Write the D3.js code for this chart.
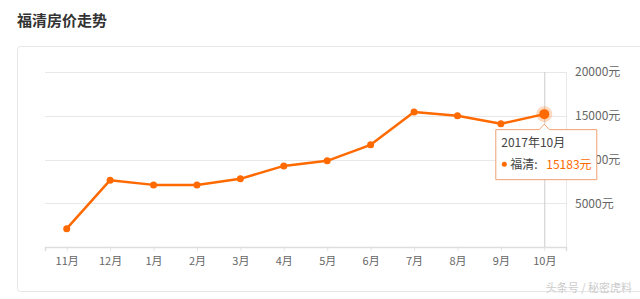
<!DOCTYPE html>
<html>
<head>
<meta charset="utf-8">
<script src="https://cdn.jsdelivr.net/npm/d3@7"></script>
<style>
  body { margin: 0; background: #fff; }
  text { font-family: "Noto Sans CJK SC", "Noto Sans", sans-serif; }
</style>
</head>
<body>
<div id="chart"></div>
<script>
var svgWidth = 640;
var svgHeight = 299;

// data
var months = ["11月", "12月", "1月", "2月", "3月", "4月", "5月", "6月", "7月", "8月", "9月", "10月"];
var prices = [2100, 7640, 7100, 7090, 7790, 9270, 9850, 11680, 15420, 15000, 14080, 15183];
var yTicks = [5000, 10000, 15000, 20000];
var hoverIndex = 11;
var hoverLabel = "2017年10月";
var seriesName = "福清";

var margin = { top: 72, right: 74, bottom: 52, left: 45 };
var width = svgWidth - margin.left - margin.right;
var height = svgHeight - margin.top - margin.bottom;

var orange = "#ff6a00";

var svg = d3.select("#chart")
  .append("svg")
  .attr("width", svgWidth)
  .attr("height", svgHeight);

// title
svg.append("text")
  .attr("x", 17)
  .attr("y", 26)
  .attr("font-size", 15)
  .attr("font-weight", "bold")
  .attr("fill", "#333")
  .text("福清房价走势");

// card
svg.append("rect")
  .attr("x", 17.5)
  .attr("y", 46.5)
  .attr("width", 640)
  .attr("height", 245)
  .attr("rx", 3)
  .attr("fill", "none")
  .attr("stroke", "#e6e6e6");

var chartGroup = svg.append("g")
  .attr("transform", `translate(${margin.left}, ${margin.top})`);

var xScale = d3.scalePoint()
  .domain(months)
  .range([0, width])
  .padding(0.5);

var yScale = d3.scaleLinear()
  .domain([0, 20000])
  .range([height, 0]);

// grid lines
chartGroup.selectAll(".grid")
  .data(yTicks)
  .enter()
  .append("line")
  .attr("x1", 0)
  .attr("x2", width)
  .attr("y1", d => Math.round(yScale(d)) + 0.5)
  .attr("y2", d => Math.round(yScale(d)) + 0.5)
  .attr("stroke", "#e8e8e8");

// right edge of plot
chartGroup.append("line")
  .attr("x1", width + 0.5)
  .attr("x2", width + 0.5)
  .attr("y1", 0)
  .attr("y2", height)
  .attr("stroke", "#e8e8e8");

// right axis labels
var rightAxis = d3.axisRight(yScale)
  .tickValues(yTicks)
  .tickSize(0)
  .tickPadding(9)
  .tickFormat(d => d + "元");

chartGroup.append("g")
  .attr("transform", `translate(${width}, 0)`)
  .call(rightAxis)
  .call(g => g.select(".domain").remove())
  .selectAll("text")
  .attr("fill", "#666")
  .attr("font-size", 12);

// bottom axis
var bottomAxis = d3.axisBottom(xScale)
  .tickSize(4)
  .tickPadding(6);

var xAxis = chartGroup.append("g")
  .attr("transform", `translate(0, ${height})`)
  .call(bottomAxis);
xAxis.select(".domain").attr("stroke", "#ddd").attr("stroke-width", 1.5);
xAxis.selectAll(".tick line").attr("stroke", "#e3e3e3");
xAxis.selectAll("text")
  .attr("fill", "#666")
  .attr("font-size", 11);

// hover line
chartGroup.append("line")
  .attr("x1", xScale(months[hoverIndex]) + 0.5)
  .attr("x2", xScale(months[hoverIndex]) + 0.5)
  .attr("y1", 0)
  .attr("y2", height)
  .attr("stroke", "#ccc");

// price line
var line = d3.line()
  .x((d, i) => xScale(months[i]))
  .y(d => yScale(d));

chartGroup.append("path")
  .datum(prices)
  .attr("d", line)
  .attr("fill", "none")
  .attr("stroke", orange)
  .attr("stroke-width", 2.5)
  .attr("stroke-linejoin", "round");

chartGroup.selectAll(".dot")
  .data(prices)
  .enter()
  .append("circle")
  .attr("cx", (d, i) => xScale(months[i]))
  .attr("cy", d => yScale(d))
  .attr("r", 3.5)
  .attr("fill", orange);

// highlighted point
var hx = xScale(months[hoverIndex]);
var hy = yScale(prices[hoverIndex]);
chartGroup.append("circle")
  .attr("cx", hx)
  .attr("cy", hy)
  .attr("r", 8)
  .attr("fill", orange)
  .attr("opacity", 0.25);
chartGroup.append("circle")
  .attr("cx", hx)
  .attr("cy", hy)
  .attr("r", 5)
  .attr("fill", orange);

// tooltip
var tipX = hx - 49;
var tipY = hy + 15;
var tipW = 102;
var tipH = 51;
var tip = chartGroup.append("g")
  .attr("transform", `translate(${tipX}, ${tipY})`);

tip.append("path")
  .attr("d", `M0.5,0.5 H${49 - 5} L49,-5 L${49 + 5},0.5 H${tipW - 0.5} V${tipH - 0.5} H0.5 Z`)
  .attr("fill", "rgba(255,255,255,0.95)")
  .attr("stroke", "#f0a070")
  .attr("stroke-width", 1);

tip.append("text")
  .attr("x", 6)
  .attr("y", 18)
  .attr("font-size", 12)
  .attr("fill", "#444")
  .text(hoverLabel);

tip.append("circle")
  .attr("cx", 9)
  .attr("cy", 35)
  .attr("r", 2.5)
  .attr("fill", orange);

tip.append("text")
  .attr("x", 15)
  .attr("y", 39.5)
  .attr("font-size", 12)
  .attr("fill", "#444")
  .text(seriesName + ":");

tip.append("text")
  .attr("x", 51)
  .attr("y", 39.5)
  .attr("font-size", 12)
  .attr("fill", orange)
  .text(prices[hoverIndex] + "元");

// watermark
svg.append("text")
  .attr("x", 632)
  .attr("y", 292)
  .attr("text-anchor", "end")
  .attr("font-size", 11)
  .attr("fill", "#ccc")
  .text("头条号 / 秘密虎料");
</script>
</body>
</html>
